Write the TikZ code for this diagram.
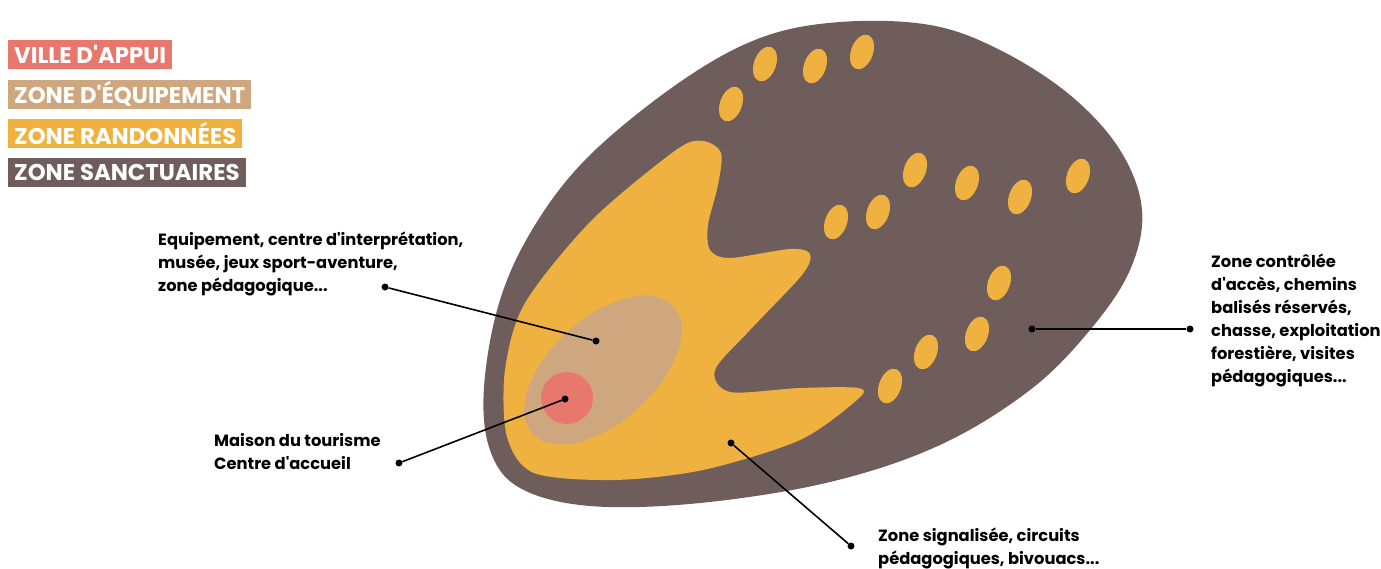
\documentclass[tikz,border=0pt]{standalone}
\usepackage{fontspec}
\setmainfont{Poppins}[Ligatures=TeXOff]
\usetikzlibrary{positioning}

\definecolor{villeRed}{HTML}{E8786E}
\definecolor{equipTan}{HTML}{CFA77E}
\definecolor{randoYel}{HTML}{EFB240}
\definecolor{sanctBrn}{HTML}{6E5D5B}

\begin{document}
\begin{tikzpicture}[x=1pt, y=-1pt, every node/.style={font=\bfseries},
			leg/.style={anchor=north west, text=white, inner xsep=6pt, inner ysep=0pt, minimum height=29pt,
				font=\fontsize{22.8}{24}\selectfont\bfseries},
			lbl/.style={anchor=west, align=left, inner sep=0pt, font=\fontsize{16.3}{23}\selectfont\bfseries},
			dot/.style={circle, fill=black, inner sep=0pt, minimum size=7pt},
			lnk/.style={line width=1.6pt}]
			\useasboundingbox (0,0) rectangle (1381,568);
			% legend
			\node[leg, fill=villeRed] (lv) at (8,40) {VILLE D'APPUI};
			\node[leg, fill=equipTan, below right=10pt and 0pt of lv.south west] (le) {ZONE D'ÉQUIPEMENT};
			\node[leg, fill=randoYel, below right=10pt and 0pt of le.south west] (lr) {ZONE RANDONNÉES};
			\node[leg, fill=sanctBrn, below right=10pt and 0pt of lr.south west] (ls) {ZONE SANCTUAIRES};
			% zones
			\fill[sanctBrn] plot[smooth cycle, tension=0.6] coordinates {(484,387) (500,300) (535,225) (590,155)
				(680,82) (760,38) (840,22) (930,25) (1000,50) (1070,95) (1120,150) (1142,210) (1130,270)
				(1090,330) (1030,390) (940,445) (830,482) (700,503) (590,506) (520,488) (490,450)};
			\fill[randoYel] plot[smooth cycle, tension=0.5] coordinates {(676,150) (703,141) (721,153) (718,185)
				(708,225) (710,250) (730,258) (790,249) (810,254) (802,275) (750,330) (715,370) (730,392)
				(800,388) (858,388) (858,399) (800,440) (703,470) (614,480) (534,473) (507,437) (505,370)
				(525,303) (592,220)};
			\foreach \x/\y in {765/64, 815/66, 862/52, 731/104, 915/170, 967/183, 1020/197, 1078/176,
				836/222, 878/212, 999/283, 977/334, 926/352, 890/386}
				\fill[randoYel, rotate around={-20:(\x,\y)}] (\x,\y) ellipse[x radius=11, y radius=18];
			\fill[equipTan, rotate around={42:(603,370)}] (603,370) ellipse[x radius=95, y radius=52];
			\fill[villeRed] (567,398) circle[radius=26];
			% dots in the zones
			\node[dot] (eq) at (596,341) {};
			\node[dot] (ville) at (565,399) {};
			\node[dot] (rando) at (731,443) {};
			\node[dot] (sanct) at (1032,329) {};
			% labels
			\node[lbl] (eqT) at (158,264) {Equipement, centre d'interprétation,\\musée, jeux sport-aventure,\\zone pédagogique...};
			\node[lbl] (villeT) at (214,452) {Maison du tourisme\\Centre d'accueil};
			\node[lbl] (sanctT) at (1211,320) {Zone contrôlée\\d'accès, chemins\\balisés réservés,\\chasse, exploitation\\forestière, visites\\pédagogiques...};
			\node[lbl] (randoT) at (878,548) {Zone signalisée, circuits\\pédagogiques, bivouacs...};
			\node[dot] (eqL) at (385,287) {};
			\node[dot] (villeL) at (399,463) {};
			\node[dot] (randoL) at (851,546) {};
			\node[dot] (sanctL) at (1190,329) {};
			\draw[lnk] (eqL) -- (eq);
			\draw[lnk] (villeL) -- (ville);
			\draw[lnk] (randoL) -- (rando);
			\draw[lnk] (sanctL) -- (sanct);
		\end{tikzpicture}
\end{document}
